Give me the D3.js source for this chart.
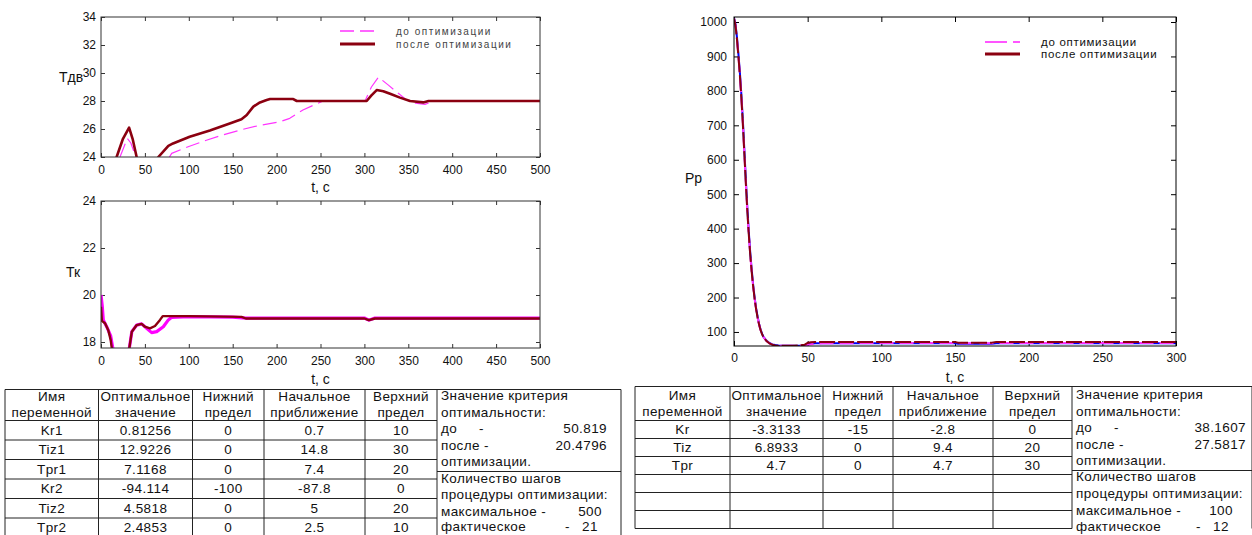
<!DOCTYPE html>
<html><head><meta charset="utf-8">
<script src="https://cdn.jsdelivr.net/npm/d3@7"></script>
<style>
body{margin:0;background:#fff;}
svg{display:block;font-family:"Liberation Sans",Arial,sans-serif;}
</style></head><body>
<svg id="c" width="1252" height="535"></svg>
<script>
// ---------- DATA ----------
// Chart 1: Тдв(t)
const tdvBeforeT = [0, 10, 21.6, 26, 30, 34, 38, 42, 50, 60, 70, 78, 80.5, 100, 120, 140, 160, 180, 204, 215, 230, 242, 253, 300.7, 308, 316, 327, 338.6, 348, 358, 369, 374.7, 382, 500];
const tdvBefore  = [20, 21, 24, 24.7, 25.33, 25.0, 24.3, 23.5, 22, 21.5, 22.3, 24.0, 24.26, 24.75, 25.2, 25.6, 25.95, 26.25, 26.52, 26.76, 27.36, 27.7, 28.0, 28.0, 29.0, 29.7, 29.15, 28.55, 28.07, 27.85, 27.76, 27.9, 28.0, 28.0];
const tdvAfterT  = [0, 10, 17.8, 25, 32, 36, 40.6, 45, 55, 65.3, 76.7, 82, 101, 124, 149, 160, 166, 173.5, 181, 188.7, 192.6, 219, 223, 302.6, 308, 314, 321.5, 330, 340.5, 352, 367, 373, 500];
const tdvAfter   = [20, 21.5, 24, 25.3, 26.1, 25.3, 24, 22.5, 21.8, 24, 24.8, 24.97, 25.45, 25.9, 26.45, 26.7, 27.0, 27.6, 27.9, 28.07, 28.14, 28.14, 28.0, 28.0, 28.4, 28.78, 28.7, 28.5, 28.24, 28.0, 27.9, 28.0, 28.0];
const tdvYTicks = [24, 26, 28, 30, 32, 34];

// Chart 2: Тк(t)
const tkBeforeT = [0, 1.5, 2.6, 6.5, 11, 13.3, 16, 25, 32.3, 35.1, 40.7, 46.3, 52, 57.7, 63.4, 71, 76.7, 80.5, 100, 150, 165, 300, 305, 312, 500];
const tkBefore  = [20.0, 19.5, 18.94, 18.65, 18.26, 17.77, 17.3, 17.0, 17.75, 18.44, 18.72, 18.77, 18.58, 18.4, 18.44, 18.65, 18.94, 19.05, 19.08, 19.06, 19.02, 19.02, 18.93, 19.02, 19.02];
const tkAfterT  = [0, 1, 4.6, 8.3, 11, 12.2, 16, 25, 32.3, 35.1, 40.7, 46.3, 50, 55.8, 61.5, 67.2, 70.3, 100, 160, 165, 300, 305, 312, 500];
const tkAfter   = [19.5, 18.9, 18.8, 18.5, 18.09, 17.77, 17.3, 17.0, 17.75, 18.44, 18.72, 18.77, 18.65, 18.58, 18.68, 18.94, 19.1, 19.1, 19.07, 19.0, 19.0, 18.93, 19.0, 19.0];
const tkYTicks = [18, 20, 22, 24];

// Chart 3: Рр(t)
const prT      = [0, 1, 2, 3, 4, 5, 6, 7, 8, 9, 10, 11, 12, 13, 14, 15, 16, 17, 18, 19, 20, 22, 24, 26, 28, 30, 35, 40, 45, 48, 50, 52, 55, 60, 100, 150, 152, 175, 178, 300];
const prBefore = [1010, 990, 950, 900, 845, 780, 705, 620, 535, 455, 385, 325, 275, 232, 196, 166, 142, 122, 106, 94, 85, 74, 67, 63, 61, 60, 60, 60, 60, 61, 63, 64, 66, 67, 68, 68, 67, 67, 68, 68];
const prAfter  = [1010, 990, 950, 900, 845, 780, 705, 620, 535, 455, 385, 325, 275, 232, 196, 166, 142, 122, 106, 94, 85, 74, 67, 63, 61, 60, 60, 60, 61, 63, 68, 70, 71, 71, 71, 71, 69, 69, 71, 71];
const prBlue   = [1012, 994, 956, 907, 853, 789, 715, 630, 545, 464, 393, 332, 281, 237, 200, 169, 145, 124, 108, 95, 86, 75, 68, 64, 62, 61, 60, 60, 60, 61, 64, 66, 67, 67, 67, 67, 66, 66, 67, 67];
const prYTicks = [100, 200, 300, 400, 500, 600, 700, 800, 900, 1000];

const legendLabels = ["до оптимизации", "после оптимизации"];
const axisTitleX = "t, c";

// Tables
const tableHeader = [["Имя", "переменной"], ["Оптимальное", "значение"], ["Нижний", "предел"], ["Начальное", "приближение"], ["Верхний", "предел"]];
const table1Rows = [
  ["Kr1", "0.81256", "0", "0.7", "10"],
  ["Tiz1", "12.9226", "0", "14.8", "30"],
  ["Tpr1", "7.1168", "0", "7.4", "20"],
  ["Kr2", "-94.114", "-100", "-87.8", "0"],
  ["Tiz2", "4.5818", "0", "5", "20"],
  ["Tpr2", "2.4853", "0", "2.5", "10"]
];
const table1Crit = {before: "50.819", after: "20.4796", max: "500", actual: "21"};
const table2Rows = [
  ["Kr", "-3.3133", "-15", "-2.8", "0"],
  ["Tiz", "6.8933", "0", "9.4", "20"],
  ["Tpr", "4.7", "0", "4.7", "30"],
  ["", "", "", "", ""],
  ["", "", "", "", ""],
  ["", "", "", "", ""]
];
const table2Crit = {before: "38.1607", after: "27.5817", max: "100", actual: "12"};

// ---------- DRAW ----------
const svg = d3.select("#c");
const C_AFTER = "#8b0010", C_BEFORE = "#ff33ff", C_BLUE = "#0000ff";

function zip(t, v){ return t.map((d,i)=>[d, v[i]]); }

function panel(o){
  const g = svg.append("g");
  const x = d3.scaleLinear().domain(o.xd).range([o.x0, o.x1]);
  const y = d3.scaleLinear().domain(o.yd).range([o.y1, o.y0]);
  const id = "clip"+o.id;
  svg.append("clipPath").attr("id", id).append("rect")
    .attr("x", o.x0).attr("y", o.y0).attr("width", o.x1-o.x0).attr("height", o.y1-o.y0);
  const ts = o.tick;
  const fmt = d3.format("d");
  const mk = (sel)=>{ sel.select(".domain").remove(); sel.selectAll("line").attr("stroke", o.axisColor);
    sel.selectAll("text").attr("fill","#111").style("font-size", o.fs+"px").style("font-family",'"Liberation Sans",Arial,sans-serif'); };
  g.append("g").attr("transform",`translate(0,${o.y1})`)
    .call(d3.axisBottom(x).tickValues(o.xt).tickFormat(fmt).tickSize(-ts).tickPadding(o.xpad).tickSizeOuter(0)).call(mk);
  g.append("g").attr("transform",`translate(0,${o.y0})`)
    .call(d3.axisTop(x).tickValues(o.xt).tickSize(-ts).tickFormat("").tickSizeOuter(0)).call(mk);
  g.append("g").attr("transform",`translate(${o.x0},0)`)
    .call(d3.axisLeft(y).tickValues(o.yt).tickFormat(fmt).tickSize(-ts).tickPadding(o.ypad).tickSizeOuter(0)).call(mk);
  g.append("g").attr("transform",`translate(${o.x1},0)`)
    .call(d3.axisRight(y).tickValues(o.yt).tickSize(-ts).tickFormat("").tickSizeOuter(0)).call(mk);
  const line = d3.line().x(d=>x(d[0])).y(d=>y(d[1]));
  const lg = g.append("g").attr("clip-path", `url(#${id})`);
  o.series.forEach(s=>{
    lg.append("path").datum(s.data).attr("d", line).attr("fill","none")
      .attr("stroke", s.color).attr("stroke-width", s.w).attr("stroke-linejoin","round")
      .attr("stroke-dasharray", s.dash || null);
  });
  g.append("rect").attr("x", o.x0).attr("y", o.y0).attr("width", o.x1-o.x0).attr("height", o.y1-o.y0)
    .attr("fill","none").attr("stroke", o.axisColor).attr("stroke-width",1);
  g.append("text").attr("x", o.ylab[0]).attr("y", o.ylab[1]).text(o.ytitle)
    .style("font-size", o.tfs+"px").attr("fill","#111");
  g.append("text").attr("x", (o.x0+o.x1)/2).attr("y", o.xlabY).attr("text-anchor","middle").text(axisTitleX)
    .style("font-size", o.tfs+"px").attr("fill","#111");
  return {x, y, g};
}

// Chart 1
panel({id:1, x0:101, x1:540, y0:17, y1:157, xd:[0,500], yd:[24,34],
  xt:d3.range(0,501,50), yt:tdvYTicks, tick:4, xpad:8, ypad:5, fs:12, tfs:14, axisColor:"#333",
  ytitle:"Тдв", ylab:[59,82], xlabY:192,
  series:[
    {data:zip(tdvBeforeT, tdvBefore), color:C_BEFORE, w:1.2, dash:"14,6"},
    {data:zip(tdvAfterT, tdvAfter), color:C_AFTER, w:2.6}
  ]});
// legend 1
[[0, C_BEFORE, 1.3, "14,6"], [1, C_AFTER, 2.8, null]].forEach(([i,c,w,dash])=>{
  const yy = 31 + i*13;
  svg.append("line").attr("x1",340).attr("x2",375).attr("y1",yy).attr("y2",yy)
    .attr("stroke",c).attr("stroke-width",w).attr("stroke-dasharray",dash);
  svg.append("text").attr("x",396).attr("y",yy+3.5).text(legendLabels[i])
    .style("font-size","10px").style("letter-spacing","1.5px").attr("fill","#444");
});

// Chart 2
panel({id:2, x0:101, x1:540, y0:201, y1:348, xd:[0,500], yd:[24-147/23.5,24],
  xt:d3.range(0,501,50), yt:tkYTicks, tick:4, xpad:8, ypad:5, fs:12, tfs:14, axisColor:"#333",
  ytitle:"Тк", ylab:[66,277], xlabY:384,
  series:[
    {data:zip(tkBeforeT, tkBefore), color:"#ff00ff", w:3.2},
    {data:zip(tkAfterT, tkAfter), color:C_AFTER, w:2.4}
  ]});

// Chart 3
panel({id:3, x0:734, x1:1176, y0:17, y1:346, xd:[0,300], yd:[1000-324/0.3444,1000+5/0.3444],
  xt:d3.range(0,301,50), yt:prYTicks, tick:5, xpad:7, ypad:7, fs:12, tfs:14, axisColor:"#000",
  ytitle:"Рр", ylab:[685,183], xlabY:382,
  series:[
    {data:zip(prT, prBlue), color:C_BLUE, w:2},
    {data:zip(prT, prBefore), color:C_BEFORE, w:2, dash:"14,6"},
    {data:zip(prT, prAfter), color:C_AFTER, w:2, dash:"16,3"}
  ]});
[[0, "#ff55ff", 2, "22,6"], [1, C_AFTER, 3, null]].forEach(([i,c,w,dash])=>{
  const yy = 42 + i*12;
  svg.append("line").attr("x1",985).attr("x2",1020).attr("y1",yy).attr("y2",yy)
    .attr("stroke",c).attr("stroke-width",w).attr("stroke-dasharray",dash);
  svg.append("text").attr("x",1041).attr("y",yy+4).text(legendLabels[i])
    .style("font-size","11.5px").style("letter-spacing","0.7px").attr("fill","#111");
});

// Tables
function table(o){
  const g = svg.append("g").style("font-size", o.fs+"px").style("letter-spacing","0.4px").attr("fill","#111");
  const cols = o.cols;
  const rowY = o.rows.map((r,i)=>o.hb + i*o.rh);
  const bottom = o.hb + o.rows.length*o.rh;
  const ln = (x1,y1,x2,y2,w)=>g.append("line").attr("x1",x1).attr("y1",y1).attr("x2",x2).attr("y2",y2)
    .attr("stroke","#222").attr("stroke-width",w||1);
  ln(cols[0], o.top, cols[6], o.top);
  cols.forEach(cx=>ln(cx, o.top, cx, bottom));
  ln(cols[0], o.hb, cols[5], o.hb);
  rowY.forEach((ry)=>ln(cols[0], ry+o.rh, cols[5], ry+o.rh));
  ln(cols[5], o.div, cols[6], o.div);
  tableHeader.forEach((h,j)=>{
    const cx = (cols[j]+cols[j+1])/2;
    h.forEach((t,k)=>g.append("text").attr("x",cx).attr("y",o.hy[k]).attr("text-anchor","middle").text(t));
  });
  o.rows.forEach((r,i)=>r.forEach((t,j)=>{
    if(!t) return;
    g.append("text").attr("x",(cols[j]+cols[j+1])/2).attr("y",rowY[i]+o.rh/2+4.5).attr("text-anchor","middle").text(t);
  }));
  const lx = cols[5]+4, L = o.cl, rx = cols[6]-o.rpad;
  const t = (x,y,s,a)=>g.append("text").attr("x",x).attr("y",y).attr("text-anchor",a||"start").text(s);
  t(lx, L[0], "Значение критерия");
  t(lx, L[1], "оптимальности:");
  t(lx, L[2], "до"); t(lx+o.dash1, L[2], "-");
  t(rx, L[2], o.crit.before, "end");
  t(lx, L[3], "после -");
  t(rx, L[3], o.crit.after, "end");
  t(lx, L[4], "оптимизации.");
  t(lx, L[5], "Количество шагов");
  t(lx, L[6], "процедуры оптимизации:");
  t(lx, L[7], "максимальное -");
  t(lx+o.numX, L[7], o.crit.max, "middle");
  t(lx, L[8], "фактическое"); t(lx+o.dash2, L[8], "-");
  t(lx+o.numX, L[8], o.crit.actual, "middle");
}
table({cols:[5, 98.5, 192.5, 264, 365, 437, 621], top:389.5, hb:420.5, rh:19.5, rows:table1Rows, fs:13.5,
  hy:[400.5, 416.5], div:471.5, cl:[400, 416.5, 433, 449.5, 466, 482.5, 499, 515.5, 531], crit:table1Crit,
  rpad:14, dash1:38, dash2:124, numX:149});
table({cols:[635, 730, 823, 893, 993, 1072, 1252], top:386.5, hb:420.5, rh:18, rows:table2Rows, fs:13.5,
  hy:[399.5, 415.5], div:470.5, cl:[399, 415.5, 432, 448.5, 465, 481, 498, 515, 530.5], crit:table2Crit,
  rpad:6, dash1:38, dash2:120, numX:145});
</script>
</body></html>
